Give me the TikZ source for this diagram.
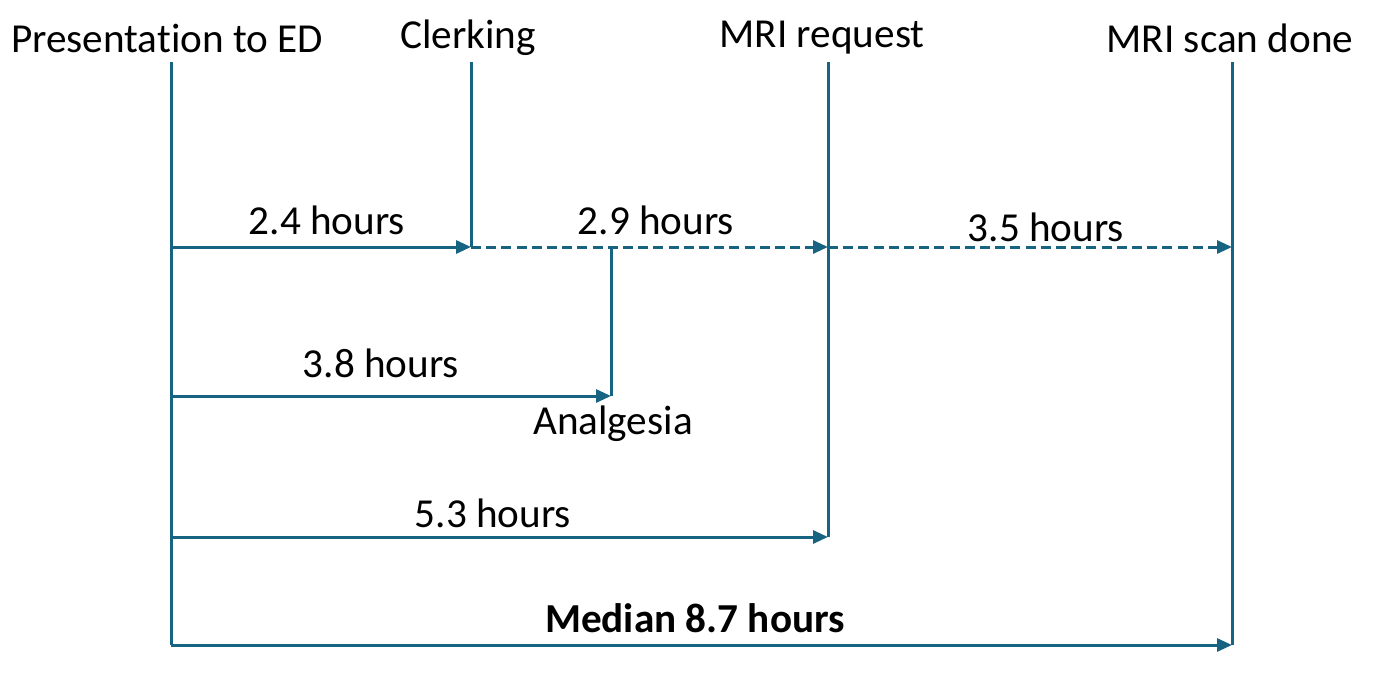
\documentclass[tikz,border=0pt]{standalone}
\usepackage{fontspec}
\setmainfont[Ligatures=NoCommon]{Carlito}
\usetikzlibrary{arrows.meta}
\definecolor{teal}{RGB}{22,100,130}
\begin{document}
\begin{tikzpicture}[x=0.5pt,y=-0.5pt,
  conn/.style={draw=teal,line width=1.5pt},
  arr/.style={conn,-{Triangle[length=7.5pt,width=6.5pt]}},
  dsh/.style={dash pattern=on 5pt off 2.6pt},
  lbl/.style={font=\fontsize{20.6}{23}\selectfont,text=black,inner sep=0pt}]
\useasboundingbox (0,0) rectangle (1377,685);
% labels
\node[lbl] (pres) at (167,38) {Presentation to ED};
\node[lbl] (clerk) at (468,38) {Clerking};
\node[lbl] (mrireq) at (822,38) {MRI request};
\node[lbl] (mriscan) at (1230,38) {MRI scan done};
\node[lbl] (l24) at (327,220) {2.4 hours};
\node[lbl] (l29) at (656,220) {2.9 hours};
\node[lbl] (l35) at (1046,227) {3.5 hours};
\node[lbl] (l38) at (381,363) {3.8 hours};
\node[lbl] (analg) at (613,424) {Analgesia};
\node[lbl] (l53) at (493,513) {5.3 hours};
\node[lbl,font=\fontsize{20.6}{23}\selectfont\bfseries] (med) at (695,618) {Median 8.7 hours};
% coordinates
\coordinate (pT) at (171,62);
\coordinate (pA) at (171,247);
\coordinate (pB) at (171,396);
\coordinate (pC) at (171,537);
\coordinate (pD) at (171,645);
\coordinate (cT) at (471,62);
\coordinate (cA) at (471,247);
\coordinate (rT) at (828,62);
\coordinate (rA) at (828,247);
\coordinate (rC) at (828,537);
\coordinate (sT) at (1232,62);
\coordinate (sA) at (1232,247);
\coordinate (sD) at (1232,645);
\coordinate (aA) at (611,247);
\coordinate (aB) at (611,396);
% vertical lines
\draw[conn] (pT) -- (pD);
\draw[conn] (cT) -- (cA);
\draw[conn] (rT) -- (rC);
\draw[conn] (sT) -- (sD);
\draw[conn] (aA) -- (aB);
% arrows
\draw[arr] (pA) -- (cA);
\draw[arr,dsh] (cA) -- (rA);
\draw[arr,dsh] (rA) -- (sA);
\draw[arr] (pB) -- (aB);
\draw[arr] (pC) -- (rC);
\draw[arr] (pD) -- (sD);
\end{tikzpicture}
\end{document}
